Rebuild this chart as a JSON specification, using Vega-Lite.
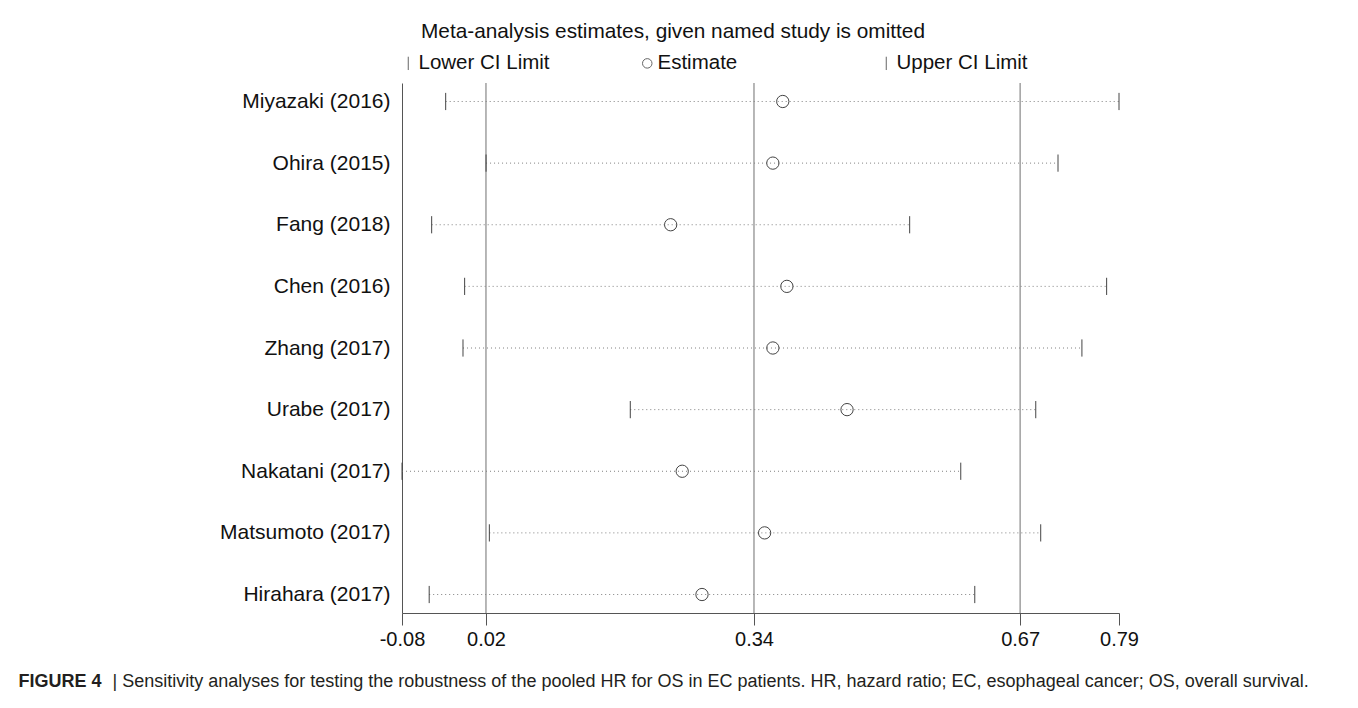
{
  "$schema": "https://vega.github.io/schema/vega-lite/v6.json",
  "width": 717,
  "height": 530,
  "autosize": "none",
  "padding": {"left": 402, "top": 83, "right": 239, "bottom": 95},
  "background": "white",
  "config": {
    "font": "Liberation Sans",
    "view": {"stroke": null}
  },
  "title": {
    "text": "Meta-analysis estimates, given named study is omitted",
    "orient": "top",
    "anchor": "start",
    "frame": "group",
    "dx": 19,
    "offset": 10,
    "fontSize": 20.8,
    "fontWeight": "normal",
    "color": "#111"
  },
  "datasets": {
    "studies": [
      {"study": "Miyazaki (2016)", "lower": -0.027, "est": 0.382, "upper": 0.790},
      {"study": "Ohira (2015)", "lower": 0.022, "est": 0.370, "upper": 0.716},
      {"study": "Fang (2018)", "lower": -0.044, "est": 0.246, "upper": 0.536},
      {"study": "Chen (2016)", "lower": -0.004, "est": 0.387, "upper": 0.775},
      {"study": "Zhang (2017)", "lower": -0.006, "est": 0.370, "upper": 0.745},
      {"study": "Urabe (2017)", "lower": 0.197, "est": 0.460, "upper": 0.689},
      {"study": "Nakatani (2017)", "lower": -0.080, "est": 0.260, "upper": 0.598},
      {"study": "Matsumoto (2017)", "lower": 0.026, "est": 0.360, "upper": 0.695},
      {"study": "Hirahara (2017)", "lower": -0.047, "est": 0.284, "upper": 0.615}
    ],
    "refs": [
      {"ref": 0.0219},
      {"ref": 0.3471},
      {"ref": 0.6700}
    ]
  },
  "layer": [
    {
      "data": {"name": "refs"},
      "mark": {"type": "rule", "color": "#707070", "strokeWidth": 1},
      "encoding": {
        "x": {
          "field": "ref",
          "type": "quantitative",
          "scale": {"domain": [-0.08, 0.79], "nice": false, "zero": false},
          "axis": {
            "values": [-0.08, 0.0219, 0.3471, 0.67, 0.79],
            "labelExpr": "replace(format(floor(datum.value * 100 + 0.000001) / 100, '.2f'), '\u2212', '-')",
            "labelFontSize": 20,
            "labelColor": "#111",
            "labelFlush": false,
            "labelPadding": 4,
            "tickSize": 12,
            "tickColor": "#555",
            "domainColor": "#555",
            "grid": false,
            "title": "| Sensitivity analyses for testing the robustness of the pooled HR for OS in EC patients. HR, hazard ratio; EC, esophageal cancer; OS, overall survival.",
            "titleFontSize": 18,
            "titleFontWeight": "normal",
            "titleColor": "#231f20",
            "titleX": -290,
            "titleY": 73,
            "titleAlign": "left",
            "titleAnchor": "start",
            "titleBaseline": "alphabetic"
          }
        }
      }
    },
    {
      "data": {"name": "studies"},
      "mark": {"type": "rule", "color": "#808080", "strokeWidth": 1, "strokeDash": [1, 3]},
      "encoding": {
        "y": {
          "field": "study",
          "type": "nominal",
          "sort": null,
          "scale": {"type": "point", "padding": 0.3},
          "axis": {
            "ticks": false,
            "labelFontSize": 21,
            "labelColor": "#111",
            "labelPadding": 12,
            "domainColor": "#555",
            "title": "FIGURE 4",
            "titleAngle": 0,
            "titleFontSize": 18,
            "titleFontWeight": "bold",
            "titleColor": "#231f20",
            "titleX": -384,
            "titleY": 603,
            "titleAlign": "left",
            "titleAnchor": "start",
            "titleBaseline": "alphabetic"
          }
        },
        "x": {"field": "lower", "type": "quantitative"},
        "x2": {"field": "upper"}
      }
    },
    {
      "data": {"name": "studies"},
      "transform": [
        {"fold": ["lower", "est", "upper"], "as": ["measure", "value"]}
      ],
      "mark": {"type": "point", "filled": false, "color": "#444", "strokeWidth": 1, "size": 151, "opacity": 1},
      "encoding": {
        "y": {"field": "study", "type": "nominal", "sort": null},
        "x": {"field": "value", "type": "quantitative"},
        "shape": {
          "field": "measure",
          "type": "nominal",
          "scale": {
            "domain": ["lower", "est", "upper"],
            "range": ["M0,-1.4L0,1.4", "circle", "M0,-1.4L0,1.4"]
          },
          "legend": {
            "orient": "none",
            "legendX": -4,
            "legendY": -30,
            "direction": "horizontal",
            "columns": 3,
            "gridAlign": "all",
            "columnPadding": 87,
            "padding": 0,
            "title": null,
            "labelFontSize": 20.5,
            "labelColor": "#111",
            "labelOffset": 0,
            "labelExpr": "datum.label == 'lower' ? 'Lower CI Limit' : datum.label == 'est' ? 'Estimate' : 'Upper CI Limit'",
            "symbolSize": 90,
            "symbolStrokeColor": "#666",
            "symbolStrokeWidth": 1,
            "symbolFillColor": "transparent"
          }
        }
      }
    }
  ]
}
